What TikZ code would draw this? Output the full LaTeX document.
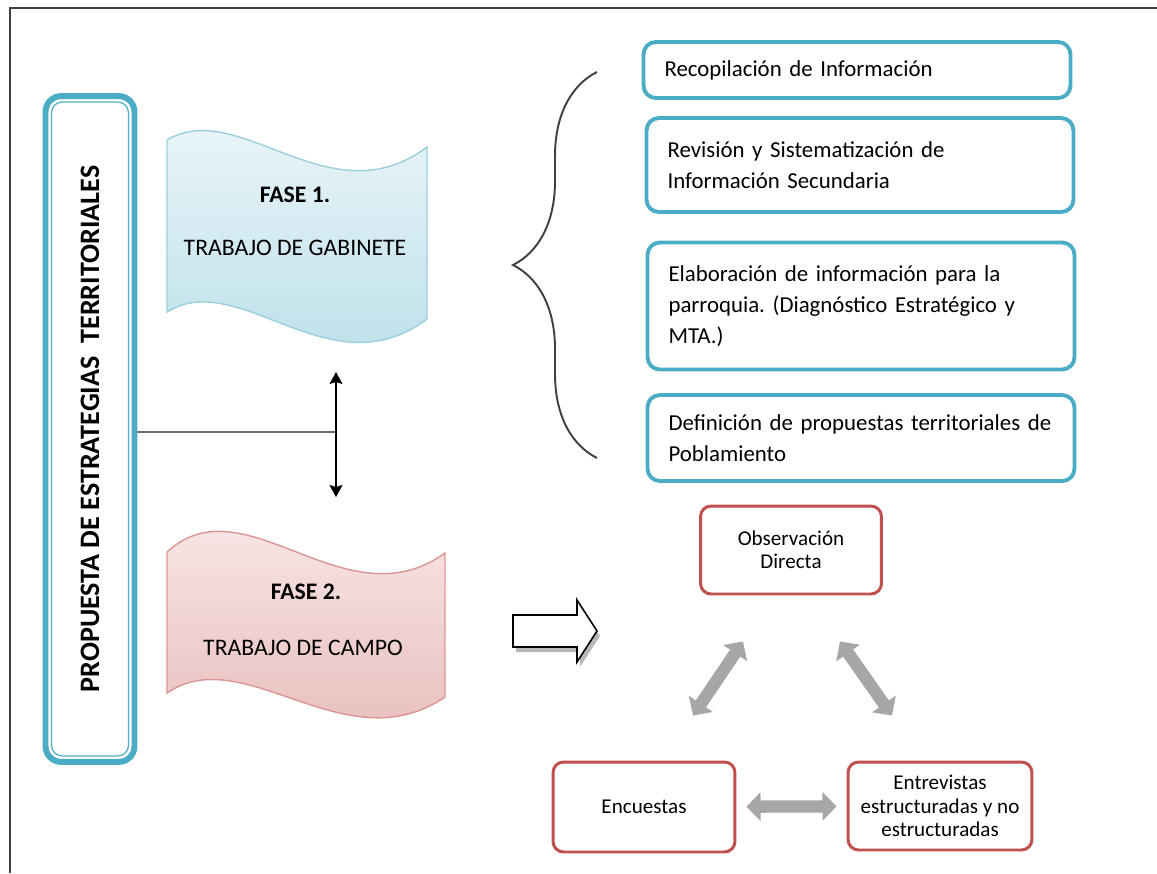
\documentclass[tikz,border=0pt]{standalone}
\usepackage{fontspec}
\setmainfont{Carlito}
\usetikzlibrary{arrows.meta,calc,decorations.pathreplacing}
\definecolor{tealb}{HTML}{4BACC6}
\definecolor{redb}{HTML}{C0504D}
\definecolor{arrowgray}{HTML}{A6A6A6}
\definecolor{wavebluebot}{HTML}{B7DDE8}
\definecolor{wavebluetop}{HTML}{EEF7FA}
\definecolor{wavebluedraw}{HTML}{9CCFDD}
\definecolor{waveredbot}{HTML}{E6B9B8}
\definecolor{waveredtop}{HTML}{FBEDED}
\definecolor{wavereddraw}{HTML}{DA9694}
\definecolor{framegray}{HTML}{404040}
\frenchspacing

\begin{document}
\begin{tikzpicture}[x=0.02cm,y=-0.02cm,
  bluebox/.style={draw=tealb,line width=2.2pt,rounded corners=7pt,fill=white,align=left,
    text width=7.7cm,inner xsep=0.42cm,inner ysep=0pt,font=\fontsize{13}{17.6}\selectfont},
  redbox/.style={draw=redb,line width=1.7pt,rounded corners=6pt,fill=white,align=center,
    inner sep=0pt,font=\fontsize{12}{13.2}\selectfont},
  fasetext/.style={font=\fontsize{13.5}{16}\selectfont},
  biarrow/.style={draw=arrowgray,line width=7pt,{Triangle[width=16pt,length=8pt]}-{Triangle[width=16pt,length=8pt]}},
  wave1/.style={draw=wavebluedraw,line width=0.8pt,top color=wavebluetop,bottom color=wavebluebot},
  wave2/.style={draw=wavereddraw,line width=0.8pt,top color=waveredtop,bottom color=waveredbot},
  linkline/.style={draw=gray!85!black,line width=1.1pt},
  vertarrow/.style={line width=0.9pt,{Stealth[length=0.24cm,width=0.26cm,inset=0.04cm]}-{Stealth[length=0.24cm,width=0.26cm,inset=0.04cm]}}]
\useasboundingbox (0,0) rectangle (1157,873);
\draw[framegray,line width=1.2pt] (10,873) -- (10,8) -- (1157,8);

\node[draw=tealb,line width=3.4pt,rounded corners=9pt,minimum width=1.78cm,minimum height=13.32cm] (prop) at (90,429) {};
\draw[tealb,line width=0.7pt,rounded corners=6pt] ([shift={(0.18cm,0.18cm)}]prop.south west) rectangle ([shift={(-0.18cm,-0.18cm)}]prop.north east);
\node[rotate=90,font=\fontsize{16}{19}\selectfont\bfseries] (propt) at (prop.center) {PROPUESTA DE ESTRATEGIAS\ \ TERRITORIALES};

\draw[wave1] (167,140) .. controls (240,97) and (330,220) .. (427,147) -- (427,319)
  .. controls (330,392) and (240,267) .. (167,312) -- cycle;
\node[fasetext,font=\fontsize{13.5}{16}\selectfont\bfseries] (f1a) at (295,195) {FASE 1.};
\node[fasetext] (f1b) at (295,248) {TRABAJO DE GABINETE};

\draw[wave2] (167,552) .. controls (245,480) and (345,625) .. (445,553) -- (445,697)
  .. controls (345,765) and (245,640) .. (167,693) -- cycle;
\node[fasetext,font=\fontsize{13.5}{16}\selectfont\bfseries] (f2a) at (306,592) {FASE 2.};
\node[fasetext] (f2b) at (303,648) {TRABAJO DE CAMPO};

\coordinate (mid) at (336,432);
\coordinate (up) at (336,372);
\coordinate (dn) at (336,497);
\draw[linkline] (prop.east |- mid) -- (mid);
\draw[vertarrow] (up) -- (dn);

\coordinate (bt) at (597,72);
\coordinate (bb) at (597,458);
\draw[framegray,line width=1.1pt,decorate,decoration={brace,amplitude=1.68cm}] (bb) -- (bt);

\node[bluebox,minimum height=1.12cm] (rec) at (857,70) {Recopilación de Información};
\node[bluebox,minimum height=1.88cm] (rev) at (860,165) {Revisión y Sistematización de\\Información Secundaria};
\node[bluebox,minimum height=2.54cm] (ela) at (861,306) {Elaboración de información para la\\parroquia. (Diagnóstico Estratégico y\\MTA.)};
\node[bluebox,minimum height=1.72cm] (def) at (861,438) {Definición de propuestas territoriales de\\Poblamiento};

\fill[gray!55] (516,620) -- (580,620) -- (580,605) -- (600,636) -- (580,667) -- (580,652) -- (516,652) -- cycle;
\draw[fill=white,line width=0.9pt] (513,615) -- (577,615) -- (577,600) -- (597,631) -- (577,662) -- (577,647) -- (513,647) -- cycle;

\node[redbox,minimum width=3.62cm,minimum height=1.76cm] (obs) at (791,550) {Observación\\Directa};
\node[redbox,minimum width=3.64cm,minimum height=1.8cm] (enc) at (644,807) {Encuestas};
\node[redbox,minimum width=3.68cm,minimum height=1.76cm] (ent) at (940,806) {Entrevistas\\estructuradas y no\\estructuradas};

\draw[biarrow,shorten <=0.2cm,shorten >=0.2cm] (enc) -- (ent);
\draw[biarrow] ($(enc.north)+(49,-45)$) -- ($(obs.south)+(-48,46)$);
\draw[biarrow] ($(obs.south)+(49,46)$) -- ($(ent.north)+(-48,-45)$);
\end{tikzpicture}
\end{document}
